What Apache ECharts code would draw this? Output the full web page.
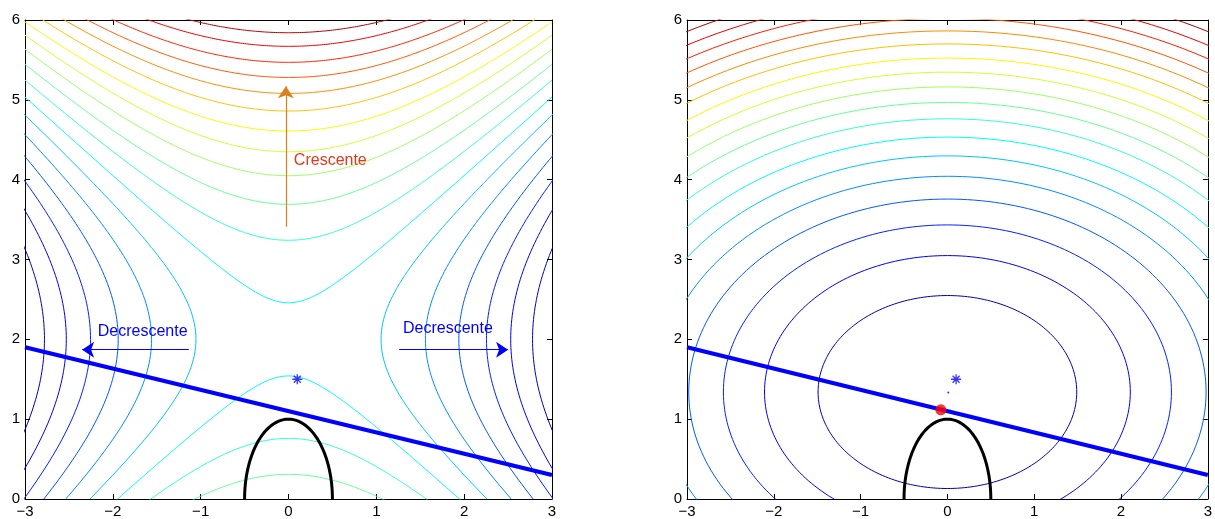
<!DOCTYPE html>
<html>
<head>
<meta charset="utf-8">
<script src="https://cdn.jsdelivr.net/npm/echarts@6/dist/echarts.min.js"></script>
<style>
  html, body { margin: 0; background: #fff; }
  #chart { width: 1215px; height: 519px; }
</style>
</head>
<body>
<div id="chart"></div>
<script>
const xRange = [-3, 3];
const yRange = [0, 6];

// left panel: saddle model (y - cy)^2 - (x - cx)^2, contour levels
const saddleCenter = [0, 2];
const saddleLevels = [-7.72, -6.40, -5.08, -3.76, -2.43, -1.11, 0.21, 1.54, 2.86, 4.20, 5.52, 6.81, 8.18, 9.49, 10.76, 12.04, 13.47, 14.75];
const saddleColorRange = [-9, 16];

// right panel: bowl model a*(x - cx)^2 + b*(y - cy)^2
const bowlCenter = [0, 1.34];
const bowlWeights = [1, 1.52];
const bowlLevels = [2.22, 4.44, 6.66, 8.88, 11.1, 13.3, 15.5, 17.8, 20.0, 22.2, 24.4, 26.6, 28.9, 31.1, 33.3, 35.5, 37.7, 40.0];
const bowlColorRange = [0, 42];

// constraint 4x^2 + y^2 = 1 (upper half), semi-axes
const constraintAxes = [0.5, 1];
const linearized = [[-3, 1.9], [3, 0.3]];
const currentPt = [0.1, 1.5];
const stepPt = [0.01, 1.335];
const solutionPt = [-0.076, 1.117];

const upArrow = [[-0.03, 3.41], [-0.03, 5.17]];
const leftArrow = [[-1.135, 1.87], [-2.35, 1.87]];
const rightArrow = [[1.26, 1.87], [2.50, 1.87]];
const leftTexts = [
  { text: "Crescente", at: [0.476, 4.24], color: "#e03a18" },
  { text: "Decrescente", at: [-1.66, 2.1], color: "#0000ff" },
  { text: "Decrescente", at: [1.815, 2.13], color: "#0000ff" },
];

const FONT = "'Liberation Sans', Arial, Helvetica, sans-serif";
const N = 240;

function jet(v) {
  const c = (t) => Math.round(255 * Math.max(0, Math.min(1, t)));
  return `rgb(${c(Math.min(4 * v - 1.5, -4 * v + 4.5))},${c(Math.min(4 * v - 0.5, -4 * v + 3.5))},${c(Math.min(4 * v + 0.5, -4 * v + 2.5))})`;
}

function saddleBranches(L) {
  const [cx, cy] = saddleCenter;
  const a = [], b = [];
  for (let i = 0; i <= N; i++) {
    if (L > 0) {
      const x = xRange[0] + ((xRange[1] - xRange[0]) * i) / N;
      const r = Math.sqrt(L + (x - cx) ** 2);
      a.push([x, cy + r]);
      b.push([x, cy - r]);
    } else {
      const y = yRange[0] + ((yRange[1] - yRange[0]) * i) / N;
      const r = Math.sqrt(-L + (y - cy) ** 2);
      a.push([cx - r, y]);
      b.push([cx + r, y]);
    }
  }
  return [a, b];
}

function bowlCurve(L) {
  const [cx, cy] = bowlCenter;
  const rx = Math.sqrt(L / bowlWeights[0]), ry = Math.sqrt(L / bowlWeights[1]);
  const pts = [];
  for (let i = 0; i <= N; i++) {
    const t = (2 * Math.PI * i) / N;
    pts.push([cx + rx * Math.cos(t), cy + ry * Math.sin(t)]);
  }
  return pts;
}

function constraintCurve() {
  const pts = [];
  for (let i = 0; i <= N; i++) {
    const t = (Math.PI * i) / N;
    pts.push([constraintAxes[0] * Math.cos(t), constraintAxes[1] * Math.sin(t)]);
  }
  return pts;
}

function line(g, data, color, width, z) {
  return {
    type: "line", xAxisIndex: 2 * g, yAxisIndex: 2 * g, data, showSymbol: false, silent: true,
    lineStyle: { color, width }, z: z || 2, animation: false,
  };
}

function arrow(g, coords, color) {
  return {
    type: "lines", coordinateSystem: "cartesian2d", xAxisIndex: 2 * g, yAxisIndex: 2 * g,
    data: [{ coords }], symbol: ["none", "arrow"], symbolSize: [0, 12], silent: true,
    lineStyle: { color, width: 1.2, opacity: 1, curveness: 0 }, z: 6, animation: false,
  };
}

function point(g, at, symbol, size, style) {
  return {
    type: "scatter", xAxisIndex: 2 * g, yAxisIndex: 2 * g, data: [at], symbol, symbolSize: size,
    itemStyle: style, silent: true, z: 8, animation: false,
  };
}

function markers(g) {
  return [
    line(g, linearized, "#0000ff", 4, 5),
    line(g, constraintCurve(), "#000000", 3, 5),
    point(g, currentPt, "path://M0,-5L0,5M-5,0L5,0M-3.5,-3.5L3.5,3.5M-3.5,3.5L3.5,-3.5", 10,
      { color: "none", borderColor: "#0000ff", borderWidth: 1.3 }),
  ];
}

const tickFmt = (v) => (v < 0 ? "\u2212" + -v : String(v));

function axisPair(g, dim) {
  const range = dim === "x" ? xRange : yRange;
  const base = {
    gridIndex: g, type: "value", min: range[0], max: range[1], interval: 1,
    axisLine: { onZero: false, lineStyle: { color: "#000", width: 1 } },
    axisTick: { inside: true, length: 5, lineStyle: { color: "#000", width: 1 } },
    splitLine: { show: false },
  };
  const pos = dim === "x" ? ["bottom", "top"] : ["left", "right"];
  return [
    { ...base, position: pos[0], axisLabel: { formatter: tickFmt, color: "#000", fontSize: 15, fontFamily: FONT, margin: 5 } },
    { ...base, position: pos[1], axisLabel: { show: false } },
  ];
}

const series = [];
const [sMin, sMax] = saddleColorRange;
saddleLevels.forEach((L) => {
  const color = jet((L - sMin) / (sMax - sMin));
  saddleBranches(L).forEach((b) => series.push(line(0, b, color, 1)));
});
const [bMin, bMax] = bowlColorRange;
bowlLevels.forEach((L) => series.push(line(1, bowlCurve(L), jet((L - bMin) / (bMax - bMin)), 1)));

series.push(...markers(0), ...markers(1));
series.push(point(1, stepPt, "circle", 2, { color: "#0000ff" }));
series.push(point(1, solutionPt, "circle", 11, { color: "#ff0000" }));
series.push(arrow(0, upArrow, "#d9801a"), arrow(0, leftArrow, "#0000ff"), arrow(0, rightArrow, "#0000ff"));
leftTexts.forEach((t) => {
  series.push({
    type: "scatter", xAxisIndex: 0, yAxisIndex: 0, data: [t.at], symbolSize: 1, silent: true, z: 9,
    itemStyle: { color: "rgba(0,0,0,0)" }, animation: false,
    label: {
      show: true, position: "inside", formatter: t.text, color: t.color, fontSize: 16, fontFamily: FONT,
      textBorderWidth: 0, textBorderColor: "transparent", opacity: 1,
    },
  });
});

const chart = echarts.init(document.getElementById("chart"), null, { renderer: "canvas" });
chart.setOption({
  backgroundColor: "#fff",
  animation: false,
  grid: [
    { left: 25, top: 20, width: 527, height: 480 },
    { left: 687, top: 20, width: 527, height: 480 },
  ],
  xAxis: [...axisPair(0, "x"), ...axisPair(1, "x")],
  yAxis: [...axisPair(0, "y"), ...axisPair(1, "y")],
  series,
});
</script>
</body>
</html>
